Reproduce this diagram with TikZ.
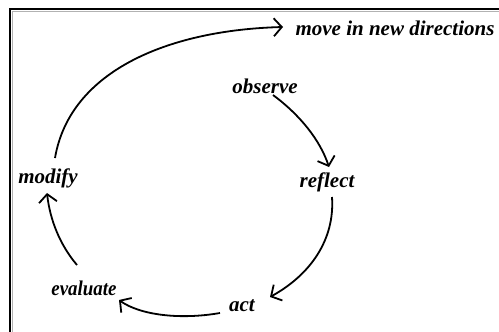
\documentclass[tikz,border=0pt]{standalone}
\usepackage{fontspec}
\setmainfont{Liberation Serif}
\usetikzlibrary{arrows.meta}
\begin{document}
\begin{tikzpicture}[x=1pt,y=-1pt,
  lbl/.style={font=\fontsize{21}{23}\selectfont\bfseries\itshape, inner sep=1pt},
  conn/.style={line width=1.8pt, -{Straight Barb[length=8pt,width=18pt,line width=1.8pt]}}]
\useasboundingbox (0,0) rectangle (499,332);
\fill[white] (0,0) rectangle (499,332);
\draw[line width=1.6pt] (10,332) -- (10,9) -- (499,9);
\draw[gray!60, line width=0.8pt] (12,332) -- (12,11) -- (499,11);
\node[lbl] (move) at (395,28) {move in new directions};
\node[lbl] (obs) at (265,86) {observe};
\node[lbl] (ref) at (327,182) {reflect};
\node[lbl] (act) at (242,306) {act};
\node[lbl] (eva) at (84,288) {\scalebox{0.9}[1]{evaluate}};
\node[lbl] (mod) at (48,178) {modify};
\coordinate (mt) at (283,27);
\draw[conn] (273,95) .. controls (300,115) and (320,140) .. (329,167);
\draw[conn] (332,197) .. controls (335,240) and (310,275) .. (270,297);
\draw[conn] (220,313) .. controls (180,320) and (140,315) .. (119,300);
\draw[conn] (77,265) .. controls (60,245) and (50,220) .. (47,193);
\draw[conn] (55,158) .. controls (70,70) and (170,30) .. (mt);
\end{tikzpicture}
\end{document}
